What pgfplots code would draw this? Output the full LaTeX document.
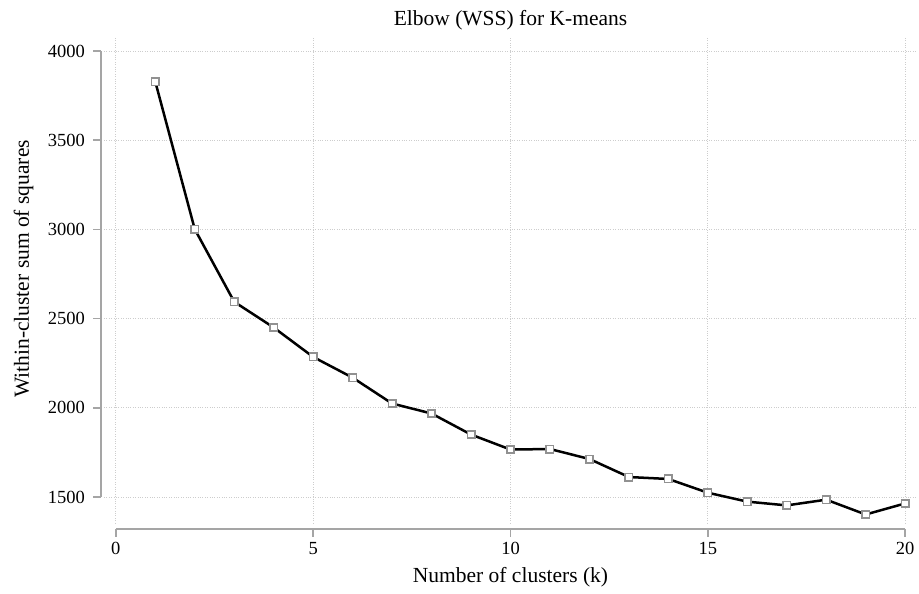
\documentclass[border=0pt]{standalone}
\usepackage{pgfplots}
\pgfplotsset{compat=1.18}
\usepackage{fontspec}
\setmainfont{Liberation Serif}

\definecolor{axgray}{RGB}{165,165,165}
\definecolor{gridgray}{RGB}{205,205,205}
\definecolor{markgray}{RGB}{145,145,145}

\begin{document}
\begin{tikzpicture}
\begin{axis}[
    at={(0pt,0pt)}, anchor=south west,
    scale only axis,
    width=813pt, height=485pt,
    xmin=-0.3, xmax=20.3,
    ymin=1354.3, ymax=4072.9,
    clip=false,
    axis line style={draw=none},
    major tick length=0pt,
    xtick={0,5,10,15,20},
    xticklabels={0,5,10,15,20},
    ytick={1500,2000,2500,3000,3500,4000},
    yticklabels={1500,2000,2500,3000,3500,4000},
    grid=major,
    major grid style={gridgray, dotted, line width=0.9pt},
    tick label style={font=\fontsize{18.5}{20}\selectfont},
    yticklabel style={inner sep=0pt, anchor=east, xshift=-19pt},
    xticklabel style={inner sep=0pt, anchor=north, yshift=-19pt},
    title={Elbow (WSS) for K-means},
    title style={at={(axis description cs:0.5,1.0125)}, anchor=base, inner sep=0pt,
        font=\fontsize{21.5}{24}\selectfont},
    xlabel={Number of clusters (k)},
    xlabel style={at={(axis description cs:0.5,-0.1237)}, anchor=base, inner sep=0pt,
        font=\fontsize{21.5}{24}\selectfont},
    ylabel={Within-cluster sum of squares},
    ylabel style={at={(axis description cs:-0.0923,0.524)}, anchor=base, inner sep=0pt,
        font=\fontsize{21.5}{24}\selectfont},
]
% axes in Stata style, set off from the plot region
\draw[axgray, line width=1.5pt] (axis cs:-0.376,1500) -- (axis cs:-0.376,4000);
\pgfplotsinvokeforeach{1500,2000,2500,3000,3500,4000}{
  \draw[axgray, line width=1.5pt] (axis cs:-0.376,#1) -- ++(-8pt,0pt);
}
\draw[axgray, line width=1.5pt] (axis cs:0,1320.7) -- (axis cs:20,1320.7);
\pgfplotsinvokeforeach{0,5,10,15,20}{
  \draw[axgray, line width=1.5pt] (axis cs:#1,1320.7) -- ++(0pt,-8pt);
}

\addplot[only marks, mark=square*, mark size=3.7pt,
    mark options={draw=markgray, fill=white, line width=1.6pt}] coordinates {
(1,3828)(2,3001)(3,2594)(4,2450)(5,2285)(6,2169)(7,2024)(8,1968)(9,1850)(10,1766)
(11,1769)(12,1713)(13,1612)(14,1601)(15,1524)(16,1474)(17,1453)(18,1485)(19,1402)(20,1464)
};
\addplot[black, line width=2.5pt, no marks, line join=round] coordinates {
(1,3828)(2,3001)(3,2594)(4,2450)(5,2285)(6,2169)(7,2024)(8,1968)(9,1850)(10,1766)
(11,1769)(12,1713)(13,1612)(14,1601)(15,1524)(16,1474)(17,1453)(18,1485)(19,1402)(20,1464)
};
\end{axis}
\pgfresetboundingbox
\path[use as bounding box] (-104pt,-71pt) rectangle (815pt,523pt);
\end{tikzpicture}
\end{document}
